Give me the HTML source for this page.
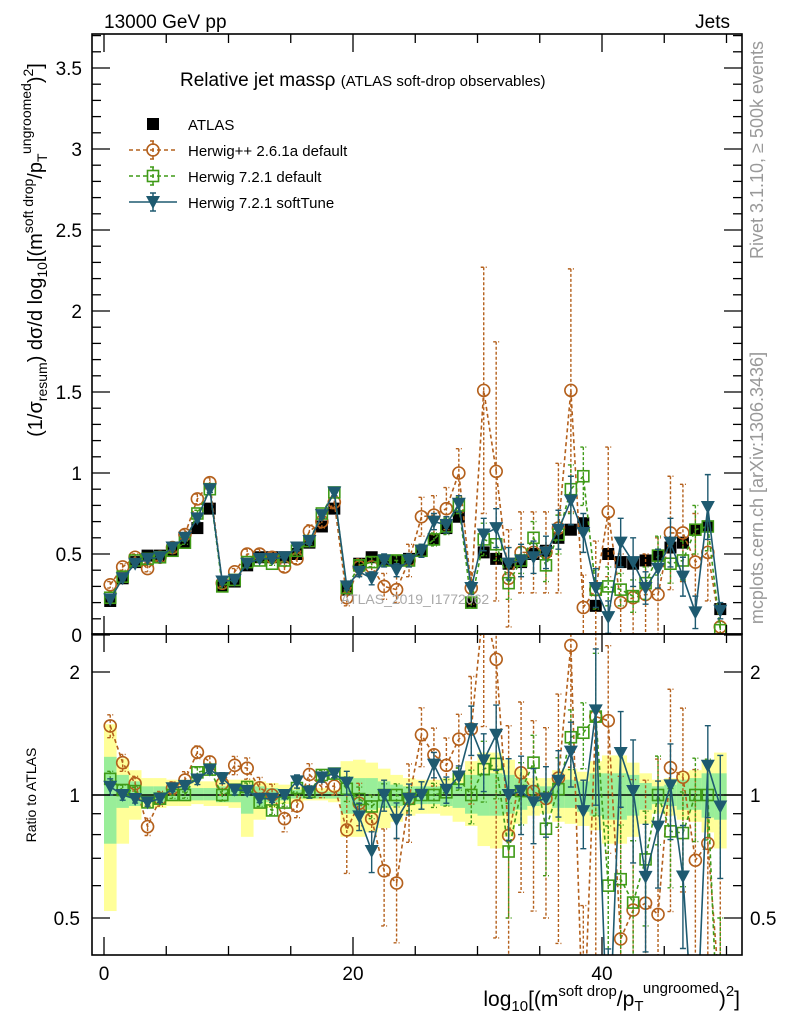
<!DOCTYPE html>
<html><head><meta charset="utf-8">
<style>
html,body{margin:0;padding:0;background:#fff;overflow:hidden;width:786px;height:1024px;}
svg{display:block;font-family:"Liberation Sans",sans-serif;}
</style></head>
<body>
<svg id="chart" width="786" height="1024" viewBox="0 0 786 1024">
  <defs>
    <clipPath id="clipMain"><rect x="92" y="34" width="650" height="600"/></clipPath>
    <clipPath id="clipRatio"><rect x="92" y="634" width="650" height="321"/></clipPath>
  </defs>
  <g id="ratioBands" clip-path="url(#clipRatio)"></g>
  <g id="mainMarks" clip-path="url(#clipMain)"></g>
  <g id="ratioMarks" clip-path="url(#clipRatio)"></g>
  <g id="axes"></g>

  <text x="104" y="28" font-size="19">13000 GeV pp</text>
  <text x="730" y="28" font-size="19" text-anchor="end">Jets</text>
  <text x="180" y="86" font-size="19">Relative jet massρ <tspan font-size="15">(ATLAS soft-drop observables)</tspan></text>
  <text x="415" y="604" font-size="14" fill="#aaa" text-anchor="middle">ATLAS_2019_I1772062</text>

  <text transform="translate(763,150) rotate(-90)" font-size="18" fill="#999" text-anchor="middle">Rivet 3.1.10, ≥ 500k events</text>
  <text transform="translate(763,488) rotate(-90)" font-size="18" fill="#999" text-anchor="middle">mcplots.cern.ch [arXiv:1306.3436]</text>

  <text transform="translate(42,250) rotate(-90)" font-size="20" text-anchor="middle">(1/σ<tspan font-size="14" dy="5">resum</tspan><tspan dy="-5">) dσ/d log</tspan><tspan font-size="14" dy="5">10</tspan><tspan dy="-5">[(m</tspan><tspan font-size="14" dy="-9">soft drop</tspan><tspan dy="9">/p</tspan><tspan font-size="14" dy="5">T</tspan><tspan font-size="14" dy="-16">ungroomed</tspan><tspan dy="11">)</tspan><tspan font-size="14" dy="-9">2</tspan><tspan dy="9">]</tspan></text>
  <text transform="translate(36,795) rotate(-90)" font-size="14" text-anchor="middle">Ratio to ATLAS</text>
  <text x="740" y="1006" font-size="21" text-anchor="end">log<tspan font-size="15" dy="5">10</tspan><tspan dy="-5">[(m</tspan><tspan font-size="15" dy="-10">soft drop</tspan><tspan dy="10">/p</tspan><tspan font-size="15" dy="5">T</tspan><tspan font-size="15" dy="-18">ungroomed</tspan><tspan dy="13">)</tspan><tspan font-size="15" dy="-10">2</tspan><tspan dy="10">]</tspan></text>

  <g id="legend"></g>
</svg>
<script>
const atlas = [0.21,0.35,0.45,0.49,0.49,0.52,0.57,0.66,0.78,0.30,0.33,0.43,0.48,0.48,0.48,0.50,0.57,0.67,0.78,0.28,0.44,0.48,0.46,0.46,0.47,0.52,0.59,0.66,0.73,0.20,0.51,0.47,0.44,0.45,0.50,0.52,0.60,0.65,0.69,0.18,0.50,0.45,0.44,0.46,0.49,0.54,0.57,0.65,0.67,0.16];
const herwigPP = [0.31,0.42,0.48,0.41,0.48,0.54,0.62,0.84,0.94,0.32,0.39,0.50,0.50,0.48,0.42,0.47,0.64,0.70,0.82,0.23,0.42,0.42,0.30,0.28,0.46,0.73,0.74,0.78,1.00,0.29,1.51,1.01,0.35,0.51,0.51,0.51,0.66,1.51,0.17,0.28,0.76,0.20,0.23,0.25,0.25,0.63,0.63,0.45,0.51,0.05];
const herwigPPErr = [0.02,0.02,0.02,0.02,0.02,0.02,0.03,0.03,0.03,0.02,0.02,0.03,0.03,0.03,0.03,0.03,0.04,0.04,0.04,0.05,0.05,0.06,0.08,0.08,0.10,0.12,0.12,0.13,0.15,0.10,0.76,0.80,0.30,0.25,0.25,0.25,0.40,0.75,0.20,0.30,0.40,0.30,0.25,0.25,0.35,0.35,0.30,0.30,0.30,0.10];
const herwig721 = [0.23,0.36,0.46,0.47,0.48,0.52,0.57,0.75,0.90,0.30,0.34,0.45,0.46,0.44,0.46,0.52,0.58,0.75,0.88,0.29,0.43,0.45,0.46,0.46,0.46,0.52,0.59,0.67,0.80,0.20,0.59,0.56,0.32,0.46,0.60,0.43,0.62,0.90,0.98,0.28,0.30,0.28,0.24,0.32,0.49,0.44,0.46,0.65,0.67,0.03];
const herwig721Err = [0.01,0.01,0.01,0.01,0.01,0.01,0.01,0.02,0.02,0.01,0.01,0.01,0.01,0.01,0.01,0.02,0.02,0.02,0.02,0.02,0.03,0.03,0.03,0.03,0.03,0.04,0.04,0.05,0.05,0.03,0.10,0.10,0.10,0.08,0.10,0.10,0.12,0.15,0.18,0.12,0.12,0.10,0.10,0.10,0.12,0.12,0.12,0.15,0.15,0.05];
const softTune = [0.22,0.35,0.44,0.47,0.48,0.54,0.60,0.72,0.90,0.33,0.34,0.44,0.47,0.47,0.48,0.54,0.58,0.74,0.88,0.30,0.39,0.35,0.46,0.40,0.46,0.52,0.70,0.68,0.81,0.29,0.62,0.66,0.44,0.46,0.48,0.51,0.65,0.83,0.63,0.29,0.11,0.57,0.45,0.29,0.41,0.57,0.36,0.14,0.79,0.15];
const softTuneErr = [0.01,0.01,0.01,0.01,0.01,0.01,0.01,0.02,0.02,0.01,0.01,0.01,0.01,0.01,0.01,0.02,0.02,0.02,0.02,0.02,0.03,0.04,0.04,0.04,0.04,0.04,0.05,0.05,0.05,0.04,0.10,0.12,0.10,0.10,0.10,0.10,0.12,0.15,0.12,0.12,0.10,0.15,0.15,0.10,0.12,0.15,0.12,0.10,0.20,0.05];
const bandYHi = [1.49,1.23,1.15,1.10,1.10,1.09,1.09,1.08,1.08,1.09,1.09,1.09,1.08,1.07,1.06,1.05,1.04,1.04,1.03,1.21,1.22,1.20,1.16,1.12,1.10,1.09,1.09,1.10,1.13,1.21,1.27,1.27,1.22,1.16,1.10,1.10,1.15,1.16,1.14,1.21,1.25,1.25,1.20,1.13,1.09,1.10,1.14,1.15,1.22,1.27];
const bandYLo = [0.52,0.76,0.87,0.93,0.93,0.94,0.94,0.95,0.94,0.94,0.93,0.79,0.87,0.93,0.95,0.96,0.97,0.97,0.96,0.79,0.79,0.81,0.83,0.86,0.89,0.90,0.90,0.89,0.86,0.84,0.75,0.74,0.79,0.85,0.89,0.90,0.86,0.85,0.84,0.82,0.76,0.76,0.79,0.85,0.90,0.89,0.87,0.86,0.81,0.74];
const bandGHi = [1.24,1.12,1.08,1.05,1.05,1.05,1.05,1.04,1.04,1.05,1.04,1.06,1.05,1.04,1.03,1.03,1.02,1.02,1.02,1.11,1.10,1.10,1.08,1.06,1.05,1.05,1.05,1.06,1.07,1.12,1.13,1.13,1.12,1.10,1.06,1.05,1.08,1.09,1.08,1.13,1.13,1.13,1.12,1.07,1.05,1.06,1.09,1.10,1.13,1.13];
const bandGLo = [0.76,0.93,0.94,0.96,0.96,0.97,0.97,0.97,0.97,0.96,0.96,0.90,0.93,0.96,0.97,0.98,0.98,0.98,0.98,0.90,0.90,0.92,0.93,0.94,0.95,0.95,0.95,0.94,0.93,0.90,0.89,0.89,0.90,0.92,0.94,0.95,0.93,0.93,0.91,0.89,0.87,0.87,0.89,0.92,0.95,0.94,0.92,0.92,0.88,0.87];
const xTickLabels = [0,20,40];
const yTickLabels = [0,0.5,1,1.5,2,2.5,3,3.5];
const ratioTickLabels = [0.5,1,2];

const NS = "http://www.w3.org/2000/svg";
const X = v => 104 + v * 12.45;
const Y = v => 635 - v * 162;
const R = r => 795 - 123 * Math.log2(r);
function mk(tag, attrs, parent){ const e=document.createElementNS(NS,tag); for(const k in attrs) e.setAttribute(k,attrs[k]); parent.appendChild(e); return e; }

const bands = document.getElementById('ratioBands');
atlas.forEach((v,i)=>{
  const r1 = mk('rect',{x:X(i),y:R(bandYHi[i]),width:12.6,height:R(bandYLo[i])-R(bandYHi[i]),fill:'#ffff99'},bands);
  
  
  const r2 = mk('rect',{x:X(i),y:R(bandGHi[i]),width:12.6,height:R(bandGLo[i])-R(bandGHi[i]),fill:'#99ee99'},bands);
  
  
});

const series = [
  {vals:herwigPP, err:herwigPPErr, color:'#b4601c', dash:'4,3', marker:'circle', name:'herwigpp-261a'},
  {vals:herwig721, err:herwig721Err, color:'#3f9a17', dash:'4,3', marker:'square', name:'herwig-721-default'},
  {vals:softTune, err:softTuneErr, color:'#1e5a70', dash:null, marker:'tri', name:'herwig-721-softtune'}
];

function drawMarker(g, m, cx, cy, color){
  let e;
  if(m==='circle') e = mk('circle',{cx:cx,cy:cy,r:6,fill:'#fff','fill-opacity':0,stroke:color,'stroke-width':1.6},g);
  else if(m==='square') e = mk('rect',{x:cx-5.5,y:cy-5.5,width:11,height:11,fill:'none',stroke:color,'stroke-width':1.6},g);
  else if(m==='tri') e = mk('path',{d:`M${cx-7},${cy-6} L${cx+7},${cy-6} L${cx},${cy+7} Z`,fill:color},g);
  else e = mk('rect',{x:cx-6,y:cy-6,width:12,height:12,fill:'#000'},g);
  return e;
}

function drawSeries(g, s, fy, fv, fe, label){
  const pts = s.vals.map((v,i)=>[X(i+0.5), fy(fv(i))]);
  const pl = mk('polyline',{points:pts.map(p=>p.join(',')).join(' '),fill:'none',stroke:s.color,'stroke-width':1.6},g);
  if(s.dash) pl.setAttribute('stroke-dasharray',s.dash);
  
  
  s.vals.forEach((v,i)=>{
    const c = fv(i), e = fe(i);
    const cx = X(i+0.5);
    const lo = Math.max(c-e, 0.001);
    const eb = mk('path',{d:`M${cx},${fy(c+e)} L${cx},${fy(lo)} M${cx-3},${fy(c+e)} L${cx+3},${fy(c+e)} M${cx-3},${fy(lo)} L${cx+3},${fy(lo)}`,stroke:s.color,'stroke-width':1.4,fill:'none'},g);
    if(s.dash) eb.setAttribute('stroke-dasharray','3,2');
    
    
    const mm = drawMarker(g, s.marker, cx, fy(c), s.color);
    
    
  });
}

const main = document.getElementById('mainMarks');
const ratio = document.getElementById('ratioMarks');
atlas.forEach((v,i)=>{
  const m = drawMarker(main,'data',X(i+0.5),Y(v),'#000');
  
  
});
series.forEach(s=>{
  drawSeries(main, s, Y, i=>s.vals[i], i=>s.err[i], 'main');
});
const one = mk('line',{x1:92,x2:742,y1:R(1),y2:R(1),stroke:'#000','stroke-width':1.5},ratio);


series.forEach(s=>{
  drawSeries(ratio, s, R, i=>Math.max(s.vals[i]/atlas[i],0.01), i=>s.err[i]/atlas[i], 'ratio');
});

const ax = document.getElementById('axes');
const f1 = mk('rect',{x:92,y:34,width:650,height:600,fill:'none',stroke:'#000','stroke-width':1.6},ax);
 
const f2 = mk('rect',{x:92,y:634,width:650,height:321,fill:'none',stroke:'#000','stroke-width':1.6},ax);
 

for(let v=0; v<=50; v+=5){
  const major = v%20===0, len = major?18:9, x=X(v);
  [[955,-1],[634,-1],[634,1],[34,1]].forEach(([y0,d])=>{
    const t = mk('line',{x1:x,x2:x,y1:y0,y2:y0+d*len,stroke:'#000','stroke-width':1.3},ax);
     
  });
}
xTickLabels.forEach(v=>{
  const t = mk('text',{x:X(v),y:980,'font-size':19,'text-anchor':'middle'},ax);
  t.textContent = v;
   
});
for(let k=0;k<=37;k++){
  const v=k/10, y=Y(v); if(y<34) continue;
  const major = k%5===0, len = major?18:9;
  [[92,1],[742,-1]].forEach(([x0,d])=>{
    const t = mk('line',{x1:x0,x2:x0+d*len,y1:y,y2:y,stroke:'#000','stroke-width':1.3},ax);
     
  });
}
yTickLabels.forEach(v=>{
  const t = mk('text',{x:82,y:Y(v)+7,'font-size':19,'text-anchor':'end'},ax);
  t.textContent = v;
   
});
[0.5,0.6,0.7,0.8,0.9,1,2].forEach(v=>{
  const y=R(v), major=[0.5,1,2].includes(v), len=major?18:9;
  [[92,1],[742,-1]].forEach(([x0,d])=>{
    const t = mk('line',{x1:x0,x2:x0+d*len,y1:y,y2:y,stroke:'#000','stroke-width':1.3},ax);
     
  });
});
ratioTickLabels.forEach(v=>{
  const t = mk('text',{x:80,y:R(v)+7,'font-size':19,'text-anchor':'end'},ax);
  t.textContent = v;
   
  const t2 = mk('text',{x:750,y:R(v)+7,'font-size':19},ax);
  t2.textContent = v;
   
});

const lg = document.getElementById('legend');
const entries = [
  {label:'ATLAS', marker:'data', color:'#000', dash:null, name:'legend-entry-atlas'},
  {label:'Herwig++ 2.6.1a default', marker:'circle', color:'#b4601c', dash:'4,3', name:'legend-entry-herwigpp'},
  {label:'Herwig 7.2.1 default', marker:'square', color:'#3f9a17', dash:'4,3', name:'legend-entry-herwig721'},
  {label:'Herwig 7.2.1 softTune', marker:'tri', color:'#1e5a70', dash:null, name:'legend-entry-softtune'}
];
entries.forEach((e,k)=>{
  const y = 124 + k*26;
  const g = mk('g',{},lg);
   
  if(e.marker!=='data'){
    const l = mk('path',{d:`M129,${y} L177,${y} M153,${y-9} L153,${y+9} M150,${y-9} L156,${y-9} M150,${y+9} L156,${y+9}`,stroke:e.color,'stroke-width':1.5,fill:'none'},g);
    if(e.dash) l.setAttribute('stroke-dasharray',e.dash);
  }
  drawMarker(g,e.marker,153,y,e.color);
  const t = mk('text',{x:188,y:y+6,'font-size':15},g);
  t.textContent = e.label;
});
</script>
</body></html>
